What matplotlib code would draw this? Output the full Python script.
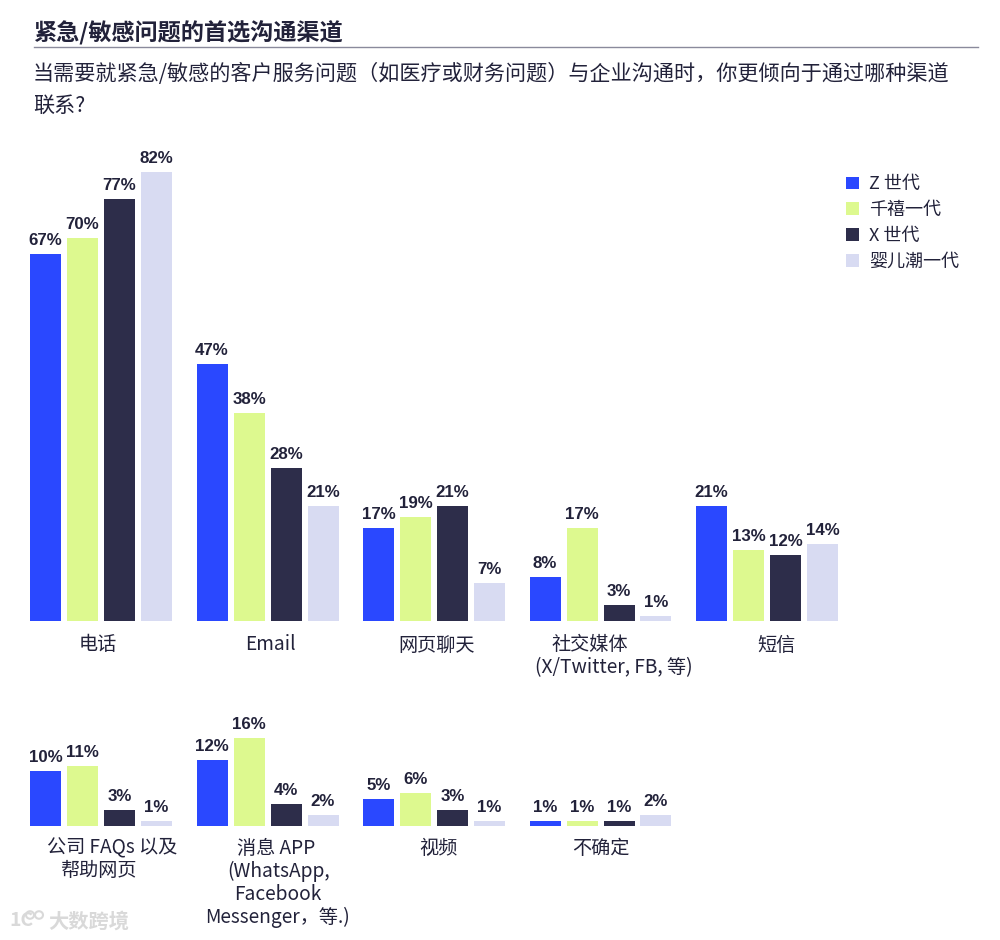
import numpy as np
import matplotlib
matplotlib.use("Agg")
import matplotlib.pyplot as plt
from matplotlib.patches import Circle

plt.rcParams['font.family'] = ['Noto Sans CJK SC', 'DejaVu Sans']

series = ['Z 世代', '千禧一代', 'X 世代', '婴儿潮一代']
colors = ['#2A48FF', '#DDF98F', '#2D2D4A', '#D8DBF2']

## top row
top_labels = [['电话'], ['Email'], ['网页聊天'], ['社交媒体', '(X/Twitter, FB, 等)'], ['短信']]
top_gen_z = [67, 47, 17, 8, 21]
top_millennial = [70, 38, 19, 17, 13]
top_gen_x = [77, 28, 21, 3, 12]
top_boomer = [82, 21, 7, 1, 14]

## bottom row
bottom_labels = [['公司 FAQs 以及', '帮助网页'],
                 ['消息 APP', '(WhatsApp,', 'Facebook', 'Messenger，等.)'],
                 ['视频'], ['不确定']]
bottom_gen_z = [10, 12, 5, 1]
bottom_millennial = [11, 16, 6, 1]
bottom_gen_x = [3, 4, 3, 1]
bottom_boomer = [1, 2, 1, 2]

W, H = 1000, 940
GROUP_PX = 166.5
BAR_PX = 31
STEP_PX = 37
FIRST_PX = 45.5
PX_PER_PCT = 5.476
PT = 72 / 100

# label line centres, pixels right of the group centre
top_shift = [[-3], [3], [3], [-11, 13], [9]]
bottom_shift = [[11, -3], [9, 11, 10, 10], [4], [0]]


def draw_row(ax, rows, labels, shifts, height, label_gap):
    ax.set_xlim(-FIRST_PX / GROUP_PX, (W - FIRST_PX) / GROUP_PX)
    ax.set_ylim(0, height / PX_PER_PCT)
    ax.axis('off')
    x = np.arange(len(labels))
    for j, vals in enumerate(rows):
        bars = ax.bar(x + j * STEP_PX / GROUP_PX, vals, BAR_PX / GROUP_PX,
                      color=colors[j], label=series[j])
        for b, v in zip(bars, vals):
            ax.annotate(f'{v}%', (b.get_x() + b.get_width() / 2, v),
                        xytext=(0, 6 * PT), textcoords='offset points',
                        ha='center', va='bottom', fontsize=12.2, fontweight='bold',
                        family='Liberation Sans', color='#22223A')
    centre = 1.5 * STEP_PX / GROUP_PX
    for i, lines in enumerate(labels):
        for k, line in enumerate(lines):
            ax.annotate(line, (i + centre, 0),
                        xytext=(shifts[i][k] * PT, -(label_gap + 23 * k) * PT),
                        textcoords='offset points', ha='center', va='center',
                        fontsize=13.8, color='#22223A')


fig = plt.figure(figsize=(W / 100, H / 100), dpi=100)

top_h = 481
ax1 = fig.add_axes([0, 1 - 621 / H, 1, top_h / H])
draw_row(ax1, [top_gen_z, top_millennial, top_gen_x, top_boomer],
         top_labels, top_shift, top_h, 24)

bottom_h = 126
ax2 = fig.add_axes([0, 1 - 826 / H, 1, bottom_h / H])
draw_row(ax2, [bottom_gen_z, bottom_millennial, bottom_gen_x, bottom_boomer],
         bottom_labels, bottom_shift, bottom_h, 22)

## title block
fig.text(33 / W, 1 - 33 / H, '紧急/敏感问题的首选沟通渠道', fontsize=16.7, fontweight='bold',
         color='#22223A', va='center', ha='left')
fig.add_artist(plt.Line2D([34 / W, 978 / W], [1 - 47 / H, 1 - 47 / H], color='#8A8A9C', lw=1))
fig.text(33 / W, 1 - 74 / H,
         '当需要就紧急/敏感的客户服务问题（如医疗或财务问题）与企业沟通时，你更倾向于通过哪种渠道',
         fontsize=15.2, color='#22223A', va='center', ha='left')
fig.text(33 / W, 1 - 106 / H, '联系?', fontsize=15.2, color='#22223A', va='center', ha='left')

## legend
handles, names = ax1.get_legend_handles_labels()
fig.legend(handles, names, loc='upper left', bbox_to_anchor=(839 / W, 1 - 168 / H),
           frameon=False, fontsize=13, handlelength=0.7, handleheight=0.7,
           handletextpad=0.58, labelspacing=0.43, labelcolor='#22223A',
           borderpad=0.4, borderaxespad=0)

## watermark
wm = '#D9D9D9'
fig.text(48 / W, 1 - 921 / H, '大数跨境', fontsize=14.6, fontweight='bold', color=wm,
         va='center', ha='left')
fig.text(9 / W, 1 - 921 / H, '1C', fontsize=14, fontweight='bold', color=wm, va='center', ha='left')
for cx in (30, 39):
    fig.add_artist(Circle((cx / W, 1 - 915 / H), 4 / W, fill=False, ec=wm, lw=1.5,
                          transform=fig.transFigure))

fig.savefig('out.png', dpi=100, facecolor='white')
